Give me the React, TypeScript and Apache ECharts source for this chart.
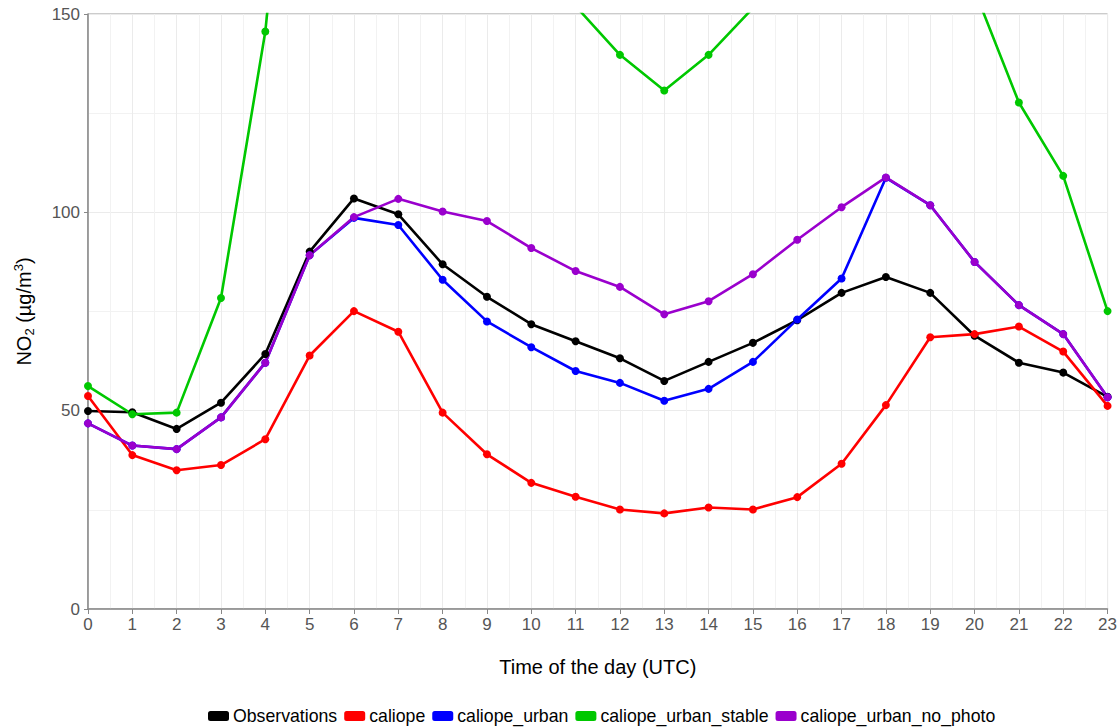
import React, { useEffect, useRef } from "react";
import * as echarts from "echarts";

const hours = [0, 1, 2, 3, 4, 5, 6, 7, 8, 9, 10, 11, 12, 13, 14, 15, 16, 17, 18, 19, 20, 21, 22, 23];
const observations = [49.9, 49.6, 45.4, 52.0, 64.3, 90.1, 103.5, 99.5, 86.9, 78.7, 71.8, 67.5, 63.2, 57.5, 62.3, 67.1, 72.8, 79.7, 83.7, 79.7, 68.9, 62.1, 59.6, 53.5];
const caliope = [53.7, 38.8, 35.0, 36.3, 42.8, 63.9, 75.1, 69.9, 49.5, 39.0, 31.8, 28.3, 25.1, 24.1, 25.6, 25.1, 28.2, 36.6, 51.4, 68.5, 69.3, 71.2, 64.9, 51.2];
const caliopeUrban = [46.8, 41.2, 40.3, 48.3, 62.1, 89.2, 98.6, 96.8, 83.0, 72.5, 66.0, 60.0, 57.0, 52.5, 55.5, 62.3, 73.0, 83.3, 108.7, 101.8, 87.5, 76.6, 69.3, 53.4];
const caliopeUrbanStable = [56.2, 49.1, 49.5, 78.4, 145.6, 255, 290, 280, 240, 205, 175, 152, 139.7, 130.7, 139.7, 151.5, 180, 215, 240, 205, 156, 127.7, 109.2, 75.1];
const caliopeUrbanNoPhoto = [46.8, 41.2, 40.3, 48.3, 62.1, 89.2, 98.8, 103.4, 100.2, 97.8, 91.0, 85.2, 81.2, 74.3, 77.6, 84.4, 93.1, 101.3, 108.8, 101.8, 87.5, 76.6, 69.3, 53.4];

const seriesNames = ["Observations", "caliope", "caliope_urban", "caliope_urban_stable", "caliope_urban_no_photo"];
const seriesValues = [observations, caliope, caliopeUrban, caliopeUrbanStable, caliopeUrbanNoPhoto];
const seriesColors = ["#000000", "#ff0000", "#0000ff", "#00c800", "#9a00cd"];

const FONT = "Liberation Sans, Arial, sans-serif";

export default function App() {
  const ref = useRef<HTMLDivElement>(null);
  useEffect(() => {
    if (!ref.current) return;
    const chart = echarts.init(ref.current, undefined, { renderer: "svg" });
    chart.setOption({
      animation: false,
      textStyle: { fontFamily: FONT },
      grid: {
        left: 88,
        right: 10,
        top: 14,
        bottom: 118,
        show: true,
        borderColor: "#999999",
        borderWidth: 1,
      },
      legend: {
        data: seriesNames,
        left: 208,
        top: 706,
        padding: 0,
        icon: "roundRect",
        itemWidth: 21,
        itemHeight: 10,
        itemGap: 7,
        textStyle: { fontSize: 17.7, lineHeight: 20, color: "#000", fontFamily: FONT, padding: [0, 0, 0, -1] },
      },
      xAxis: {
        type: "value",
        min: 0,
        max: 23,
        interval: 1,
        name: "Time of the day (UTC)",
        nameLocation: "middle",
        nameGap: 48,
        nameTextStyle: { fontSize: 20, color: "#000", fontFamily: FONT },
        axisLine: { show: true, lineStyle: { color: "#888888", width: 1.5 } },
        axisTick: { show: true, length: 5, lineStyle: { color: "#888888" } },
        axisLabel: { fontSize: 17, color: "#555555", margin: 7, fontFamily: FONT },
        splitLine: { show: true, lineStyle: { color: "#ebebeb", width: 1 } },
        minorTick: { show: false, splitNumber: 2 },
        minorSplitLine: { show: true, lineStyle: { color: "#f2f2f2", width: 1 } },
      },
      yAxis: {
        type: "value",
        min: 0,
        max: 150,
        interval: 50,
        name: "{n|NO}{s|2}{n| (µg/m}{p|3}{n|)}",
        nameLocation: "middle",
        nameGap: 52,
        nameRotate: 90,
        nameTextStyle: {
          fontSize: 20,
          color: "#000",
          fontFamily: FONT,
          rich: {
            n: { fontSize: 20, color: "#000", fontFamily: FONT, lineHeight: 24 },
            s: { fontSize: 13, color: "#000", fontFamily: FONT, verticalAlign: "bottom", lineHeight: 13 },
            p: { fontSize: 13, color: "#000", fontFamily: FONT, verticalAlign: "top", lineHeight: 13 },
          },
        },
        axisLine: { show: true, lineStyle: { color: "#888888", width: 1.5 } },
        axisTick: { show: true, length: 4, lineStyle: { color: "#888888" } },
        axisLabel: { fontSize: 17, color: "#555555", margin: 8, fontFamily: FONT },
        splitLine: { show: true, lineStyle: { color: "#ebebeb", width: 1 } },
        minorTick: { show: false, splitNumber: 2 },
        minorSplitLine: { show: true, lineStyle: { color: "#f2f2f2", width: 1 } },
      },
      series: seriesNames.map((name, i) => ({
        name,
        type: "line",
        data: hours.map((h, j) => [h, seriesValues[i][j]]),
        symbol: "circle",
        symbolSize: 8,
        showSymbol: true,
        clip: true,
        itemStyle: { color: seriesColors[i] },
        lineStyle: { color: seriesColors[i], width: 2.6 },
      })),
    });
    return () => chart.dispose();
  }, []);
  return (
    <div
      ref={ref}
      style={{ position: "absolute", left: 0, top: 0, width: 1120, height: 727 }}
    />
  );
}
